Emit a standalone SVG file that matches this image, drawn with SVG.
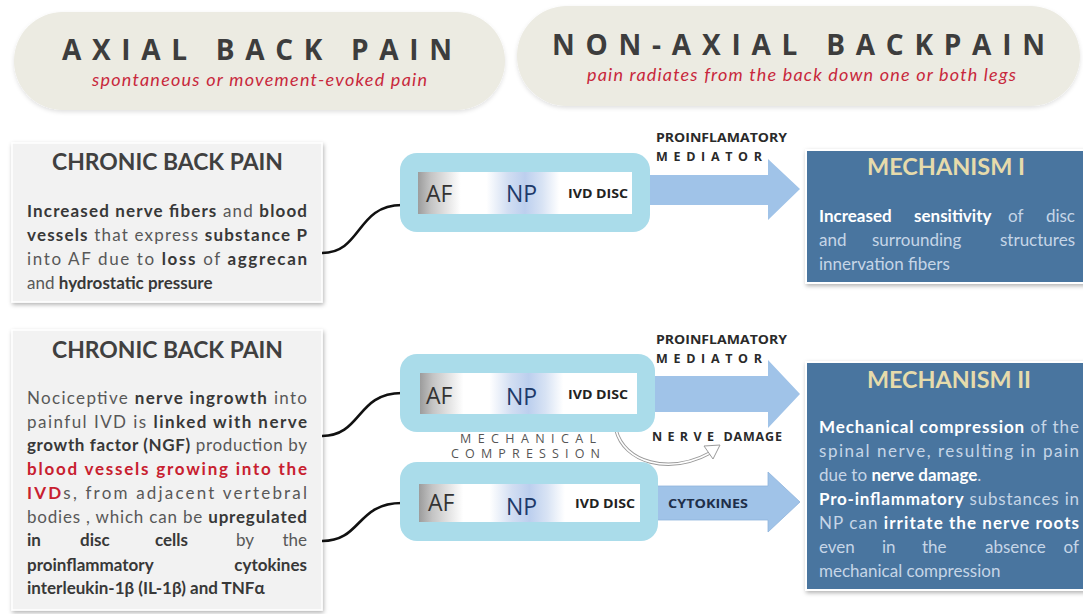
<svg xmlns="http://www.w3.org/2000/svg" width="1083" height="614" viewBox="0 0 1083 614">
<defs>
<style>
.hdr{font-family:"Open Sans","Liberation Sans",sans-serif;font-weight:700;font-size:28px;fill:#3d3d3d}
.sub{font-family:Lato,"Liberation Sans",sans-serif;font-style:italic;font-size:18px;fill:#c8283c}
.ttl{font-family:Lato,"Liberation Sans",sans-serif;font-weight:700;font-size:22px;fill:#404040}
.body{font-family:Lato,"Liberation Sans",sans-serif;font-size:17px;fill:#585858}
.body .b{font-weight:700;fill:#383838}
.body .r{font-weight:700;fill:#c8202f}
.mt{font-family:Lato,"Liberation Sans",sans-serif;font-weight:700;font-size:22px;fill:#e6dbab}
.mb{font-family:Lato,"Liberation Sans",sans-serif;font-size:17px;fill:#c6d5e7}
.mb .b{font-weight:700;fill:#ffffff}
.af{font-family:"Open Sans","Liberation Sans",sans-serif;font-size:23px;fill:#333}
.np{font-family:"Open Sans","Liberation Sans",sans-serif;font-size:23px;fill:#1e3a6a}
.ivd{font-family:"Open Sans","Liberation Sans",sans-serif;font-weight:700;font-size:13px;fill:#222}
.lbl{font-family:"Open Sans","Liberation Sans",sans-serif;font-weight:700;font-size:12.5px;fill:#2a2a2a}
.mc{font-family:"Open Sans","Liberation Sans",sans-serif;font-size:12.5px;fill:#555}
.cy{font-family:"Open Sans","Liberation Sans",sans-serif;font-weight:700;font-size:13px;fill:#1e2f4a}
.pill{fill:#ecebe2}
.card{fill:#f2f2f2;stroke:#ffffff;stroke-width:1.5}
.mech{fill:#48749f;stroke:#ffffff;stroke-width:2}
.disc{fill:#aadcea}
.arr{fill:#a0c3e8}
.wire{fill:none;stroke:#111;stroke-width:2.6}
</style>
<filter id="sh" x="-10%" y="-10%" width="125%" height="130%">
<feDropShadow dx="1" dy="2" stdDeviation="2" flood-color="#000" flood-opacity="0.3"/>
</filter>
<filter id="sh2" x="-10%" y="-10%" width="120%" height="130%">
<feDropShadow dx="0" dy="2" stdDeviation="2" flood-color="#000" flood-opacity="0.12"/>
</filter>
<linearGradient id="strip" x1="0" y1="0" x2="1" y2="0">
<stop offset="0" stop-color="#9c9c9c"/>
<stop offset="0.06" stop-color="#c4c4c4"/>
<stop offset="0.2" stop-color="#ffffff"/>
<stop offset="0.32" stop-color="#ffffff"/>
<stop offset="0.42" stop-color="#d2def2"/>
<stop offset="0.5" stop-color="#bccfee"/>
<stop offset="0.58" stop-color="#d8e3f4"/>
<stop offset="0.66" stop-color="#ffffff"/>
<stop offset="1" stop-color="#ffffff"/>
</linearGradient>
</defs>
<rect width="1083" height="614" fill="#ffffff"/>

<g id="axial-header">
<rect class="pill" x="14" y="12" width="491" height="98" rx="49" filter="url(#sh2)"/>
<text class="hdr" x="62" y="60" textLength="390" lengthAdjust="spacing">AXIAL BACK PAIN</text>
<text class="sub" x="92" y="86" textLength="335" lengthAdjust="spacing">spontaneous or movement-evoked pain</text>
</g>

<g id="nonaxial-header">
<rect class="pill" x="517" y="6" width="563" height="100" rx="50" filter="url(#sh2)"/>
<text class="hdr" x="552" y="55" textLength="493" lengthAdjust="spacing">NON-AXIAL BACKPAIN</text>
<text class="sub" x="587" y="81" textLength="429" lengthAdjust="spacing">pain radiates from the back down one or both legs</text>
</g>

<g id="chronic-1">
<rect class="card" x="12" y="143" width="310" height="159" filter="url(#sh)"/>
<text class="ttl" x="52" y="170" textLength="231" lengthAdjust="spacingAndGlyphs">CHRONIC BACK PAIN</text>
<text class="body" x="27" y="217" textLength="280" lengthAdjust="spacing"><tspan class="b">Increased nerve fibers</tspan> and <tspan class="b">blood</tspan></text>
<text class="body" x="27" y="241" textLength="280" lengthAdjust="spacing"><tspan class="b">vessels</tspan> that express <tspan class="b">substance P</tspan></text>
<text class="body" x="27" y="265" textLength="280" lengthAdjust="spacing">into AF due to <tspan class="b">loss</tspan> of <tspan class="b">aggrecan</tspan></text>
<text class="body" x="27" y="289">and <tspan class="b">hydrostatic pressure</tspan></text>
</g>

<g id="chronic-2">
<rect class="card" x="12" y="330" width="310" height="280" filter="url(#sh)"/>
<text class="ttl" x="52" y="358" textLength="231" lengthAdjust="spacingAndGlyphs">CHRONIC BACK PAIN</text>
<text class="body" x="27" y="404" textLength="280" lengthAdjust="spacing">Nociceptive <tspan class="b">nerve ingrowth</tspan> into</text>
<text class="body" x="27" y="428" textLength="280" lengthAdjust="spacing">painful IVD is <tspan class="b">linked with nerve</tspan></text>
<text class="body" x="27" y="451" textLength="280" lengthAdjust="spacing"><tspan class="b">growth factor (NGF)</tspan> production by</text>
<text class="body" x="27" y="475" textLength="280" lengthAdjust="spacing"><tspan class="r">blood vessels growing into the</tspan></text>
<text class="body" x="27" y="499" textLength="280" lengthAdjust="spacing"><tspan class="r">IVD</tspan>s, from adjacent vertebral</text>
<text class="body" x="27" y="523" textLength="280" lengthAdjust="spacing">bodies , which can be <tspan class="b">upregulated</tspan></text>
<text class="body" y="546"><tspan class="b" x="27">in</tspan><tspan class="b" x="80">disc</tspan><tspan class="b" x="155">cells</tspan><tspan x="236">by</tspan><tspan x="307" text-anchor="end">the</tspan></text>
<text class="body" y="571"><tspan class="b" x="27">proinflammatory</tspan><tspan class="b" x="307" text-anchor="end">cytokines</tspan></text>
<text class="body" x="27" y="594"><tspan class="b">interleukin-1β (IL-1β) and TNFα</tspan></text>
</g>

<g id="connectors">
<path class="wire" d="M322,253 C362,253 356,205 402,205"/>
<path class="wire" d="M322,436 C362,436 356,393 402,393"/>
<path class="wire" d="M322,541 C362,541 356,503 402,503"/>
<polygon class="arr" points="650,175 768,175 768,159 800,189 768,220 768,205 650,205"/>
<polygon class="arr" points="652,376 768,376 768,360 800,394 768,428 768,412 652,412"/>
<polygon class="arr" points="650,486 768,486 768,472 800,502 768,532 768,520 650,520" stroke="#8fb4dc" stroke-width="0.8"/>
<path d="M616,430 C624,462 668,476 712,452" fill="none" stroke="#9a9a9a" stroke-width="3.4"/>
<path d="M616,430 C624,462 668,476 712,452" fill="none" stroke="#ffffff" stroke-width="1.6"/>
<polygon points="704,446 720,445 713,459" fill="#ffffff" stroke="#9a9a9a" stroke-width="1"/>
</g>

<g id="disc-1">
<rect class="disc" x="400" y="153" width="250" height="79" rx="17"/>
<rect x="418" y="172" width="214" height="42" fill="url(#strip)"/>
<text class="af" x="426" y="202">AF</text>
<text class="np" x="506" y="202">NP</text>
<text class="ivd" x="568" y="198" textLength="60" lengthAdjust="spacingAndGlyphs">IVD DISC</text>
</g>

<g id="disc-2">
<rect class="disc" x="400" y="354" width="255" height="78" rx="17"/>
<rect x="420" y="373" width="217" height="41" fill="url(#strip)"/>
<text class="af" x="426" y="404">AF</text>
<text class="np" x="506" y="405">NP</text>
<text class="ivd" x="568" y="399" textLength="60" lengthAdjust="spacingAndGlyphs">IVD DISC</text>
</g>

<g id="disc-3">
<rect class="disc" x="400" y="462" width="258" height="79" rx="17"/>
<rect x="419" y="484" width="221" height="38" fill="url(#strip)"/>
<text class="af" x="428" y="511">AF</text>
<text class="np" x="506" y="515">NP</text>
<text class="ivd" x="575" y="508" textLength="60" lengthAdjust="spacingAndGlyphs">IVD DISC</text>
</g>

<g id="labels">
<text class="lbl" x="656" y="142" textLength="131" lengthAdjust="spacingAndGlyphs">PROINFLAMATORY</text>
<text class="lbl" x="656" y="161" textLength="106" lengthAdjust="spacing">MEDIATOR</text>
<text class="lbl" x="656" y="344" textLength="131" lengthAdjust="spacingAndGlyphs">PROINFLAMATORY</text>
<text class="lbl" x="656" y="363" textLength="106" lengthAdjust="spacing">MEDIATOR</text>
<text class="lbl" x="652" y="441" textLength="130" lengthAdjust="spacing"><tspan letter-spacing="4.5">NERVE</tspan> DAMAGE</text>
<text class="mc" x="460" y="443" textLength="136" lengthAdjust="spacing">MECHANICAL</text>
<text class="mc" x="451" y="458" textLength="149" lengthAdjust="spacing">COMPRESSION</text>
<text class="cy" x="668" y="508" textLength="80" lengthAdjust="spacingAndGlyphs">CYTOKINES</text>
</g>

<g id="mechanism-1">
<rect class="mech" x="806" y="150" width="280" height="133" filter="url(#sh)"/>
<text class="mt" x="867" y="175" textLength="158" lengthAdjust="spacingAndGlyphs">MECHANISM I</text>
<text class="mb" y="222"><tspan class="b" x="819">Increased</tspan><tspan class="b" x="914">sensitivity</tspan><tspan x="1008">of</tspan><tspan x="1075" text-anchor="end">disc</tspan></text>
<text class="mb" y="246"><tspan x="819">and</tspan><tspan x="872">surrounding</tspan><tspan x="1075" text-anchor="end">structures</tspan></text>
<text class="mb" x="819" y="270">innervation fibers</text>
</g>

<g id="mechanism-2">
<rect class="mech" x="806" y="362" width="280" height="228" filter="url(#sh)"/>
<text class="mt" x="867" y="388" textLength="164" lengthAdjust="spacingAndGlyphs">MECHANISM II</text>
<text class="mb" x="819" y="433" textLength="260" lengthAdjust="spacing"><tspan class="b">Mechanical compression</tspan> of the</text>
<text class="mb" x="819" y="457" textLength="260" lengthAdjust="spacing">spinal nerve, resulting in pain</text>
<text class="mb" x="819" y="481">due to <tspan class="b">nerve damage</tspan>.</text>
<text class="mb" x="819" y="505" textLength="260" lengthAdjust="spacing"><tspan class="b">Pro-inflammatory</tspan> substances in</text>
<text class="mb" x="819" y="529" textLength="260" lengthAdjust="spacing">NP can <tspan class="b">irritate the  nerve roots</tspan></text>
<text class="mb" y="553"><tspan x="819">even</tspan><tspan x="882">in</tspan><tspan x="922">the</tspan><tspan x="985">absence</tspan><tspan x="1079" text-anchor="end">of</tspan></text>
<text class="mb" x="819" y="577">mechanical compression</text>
</g>
</svg>
